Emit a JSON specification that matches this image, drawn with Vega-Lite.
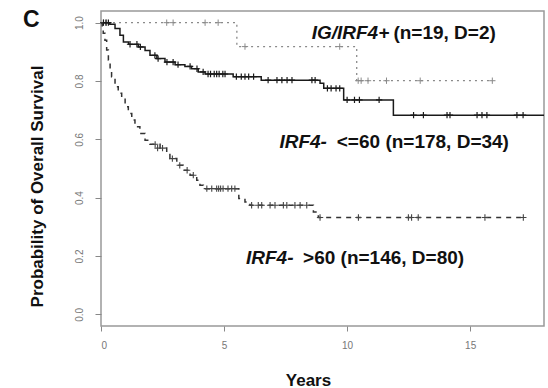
{
  "$schema": "https://vega.github.io/schema/vega-lite/v6.json",
  "width": 443,
  "height": 315,
  "autosize": {"type": "none"},
  "padding": {"left": 101, "top": 11, "right": 4, "bottom": 62},
  "background": "white",
  "config": {
    "view": {"stroke": "#999999", "strokeWidth": 1.5},
    "font": "Liberation Sans",
    "axis": {"domain": false, "grid": false, "tickColor": "#888888", "labelColor": "#777777", "labelFont": "Liberation Sans", "labelFontSize": 10, "titleFont": "Liberation Sans", "titleFontWeight": "bold", "titleFontSize": 17, "titleColor": "#111111"}
  },
  "title": {"text": "C", "anchor": "start", "frame": "group", "orient": "top", "dx": -78, "dy": 21, "offset": 0, "fontSize": 23, "fontWeight": "bold", "color": "#111111", "font": "Liberation Sans", "baseline": "top"},
  "datasets": {
    "curves": [
      {"group": "ig", "t": 0, "s": 1}, {"group": "ig", "t": 5.52, "s": 0.918}, {"group": "ig", "t": 10.39, "s": 0.801}, {"group": "ig", "t": 15.9, "s": 0.801},
      {"group": "le60", "t": 0, "s": 1}, {"group": "le60", "t": 0.36, "s": 0.995}, {"group": "le60", "t": 0.57, "s": 0.98}, {"group": "le60", "t": 0.77, "s": 0.957}, {"group": "le60", "t": 0.91, "s": 0.934}, {"group": "le60", "t": 1.12, "s": 0.926}, {"group": "le60", "t": 1.52, "s": 0.917}, {"group": "le60", "t": 1.79, "s": 0.905}, {"group": "le60", "t": 1.99, "s": 0.888}, {"group": "le60", "t": 2.27, "s": 0.877}, {"group": "le60", "t": 2.6, "s": 0.865}, {"group": "le60", "t": 3.01, "s": 0.856}, {"group": "le60", "t": 3.41, "s": 0.85}, {"group": "le60", "t": 3.68, "s": 0.842}, {"group": "le60", "t": 3.95, "s": 0.831}, {"group": "le60", "t": 4.23, "s": 0.824}, {"group": "le60", "t": 5.37, "s": 0.815}, {"group": "le60", "t": 6.51, "s": 0.803}, {"group": "le60", "t": 8.9, "s": 0.792}, {"group": "le60", "t": 9.05, "s": 0.775}, {"group": "le60", "t": 9.86, "s": 0.735}, {"group": "le60", "t": 11.88, "s": 0.683}, {"group": "le60", "t": 18, "s": 0.683},
      {"group": "gt60", "t": 0, "s": 1}, {"group": "gt60", "t": 0.05, "s": 0.985}, {"group": "gt60", "t": 0.09, "s": 0.964}, {"group": "gt60", "t": 0.16, "s": 0.94}, {"group": "gt60", "t": 0.23, "s": 0.906}, {"group": "gt60", "t": 0.3, "s": 0.872}, {"group": "gt60", "t": 0.37, "s": 0.838}, {"group": "gt60", "t": 0.43, "s": 0.815}, {"group": "gt60", "t": 0.57, "s": 0.78}, {"group": "gt60", "t": 0.7, "s": 0.758}, {"group": "gt60", "t": 0.84, "s": 0.74}, {"group": "gt60", "t": 0.98, "s": 0.712}, {"group": "gt60", "t": 1.11, "s": 0.689}, {"group": "gt60", "t": 1.25, "s": 0.666}, {"group": "gt60", "t": 1.38, "s": 0.643}, {"group": "gt60", "t": 1.58, "s": 0.62}, {"group": "gt60", "t": 1.79, "s": 0.597}, {"group": "gt60", "t": 1.99, "s": 0.583}, {"group": "gt60", "t": 2.4, "s": 0.57}, {"group": "gt60", "t": 2.67, "s": 0.552}, {"group": "gt60", "t": 2.8, "s": 0.534}, {"group": "gt60", "t": 3.08, "s": 0.511}, {"group": "gt60", "t": 3.34, "s": 0.494}, {"group": "gt60", "t": 3.62, "s": 0.477}, {"group": "gt60", "t": 3.89, "s": 0.46}, {"group": "gt60", "t": 4.02, "s": 0.443}, {"group": "gt60", "t": 4.16, "s": 0.431}, {"group": "gt60", "t": 5.6, "s": 0.397}, {"group": "gt60", "t": 5.85, "s": 0.385}, {"group": "gt60", "t": 6.05, "s": 0.374}, {"group": "gt60", "t": 8.63, "s": 0.351}, {"group": "gt60", "t": 8.83, "s": 0.332}, {"group": "gt60", "t": 17.16, "s": 0.332}
    ],
    "censors": [
      {"group": "ig", "t": 0.1, "s": 1}, {"group": "ig", "t": 0.22, "s": 1}, {"group": "ig", "t": 2.67, "s": 1}, {"group": "ig", "t": 2.93, "s": 1}, {"group": "ig", "t": 4.23, "s": 1}, {"group": "ig", "t": 4.76, "s": 1}, {"group": "ig", "t": 5.85, "s": 0.918}, {"group": "ig", "t": 9.7, "s": 0.918}, {"group": "ig", "t": 10.45, "s": 0.801}, {"group": "ig", "t": 10.57, "s": 0.801}, {"group": "ig", "t": 10.85, "s": 0.801}, {"group": "ig", "t": 11.6, "s": 0.801}, {"group": "ig", "t": 12.97, "s": 0.801}, {"group": "ig", "t": 15.9, "s": 0.801},
      {"group": "le60", "t": 0.1, "s": 1}, {"group": "le60", "t": 0.2, "s": 1}, {"group": "le60", "t": 0.3, "s": 1}, {"group": "le60", "t": 1.18, "s": 0.926}, {"group": "le60", "t": 1.46, "s": 0.926}, {"group": "le60", "t": 1.6, "s": 0.917}, {"group": "le60", "t": 2.19, "s": 0.888}, {"group": "le60", "t": 2.32, "s": 0.877}, {"group": "le60", "t": 2.68, "s": 0.865}, {"group": "le60", "t": 2.93, "s": 0.865}, {"group": "le60", "t": 3.13, "s": 0.856}, {"group": "le60", "t": 3.62, "s": 0.85}, {"group": "le60", "t": 3.9, "s": 0.842}, {"group": "le60", "t": 4.15, "s": 0.831}, {"group": "le60", "t": 4.35, "s": 0.824}, {"group": "le60", "t": 4.45, "s": 0.824}, {"group": "le60", "t": 4.6, "s": 0.824}, {"group": "le60", "t": 4.7, "s": 0.824}, {"group": "le60", "t": 4.8, "s": 0.824}, {"group": "le60", "t": 4.95, "s": 0.824}, {"group": "le60", "t": 5.04, "s": 0.824}, {"group": "le60", "t": 5.5, "s": 0.815}, {"group": "le60", "t": 5.7, "s": 0.815}, {"group": "le60", "t": 5.85, "s": 0.815}, {"group": "le60", "t": 6.0, "s": 0.815}, {"group": "le60", "t": 6.2, "s": 0.815}, {"group": "le60", "t": 6.79, "s": 0.803}, {"group": "le60", "t": 7.15, "s": 0.803}, {"group": "le60", "t": 7.35, "s": 0.803}, {"group": "le60", "t": 7.56, "s": 0.803}, {"group": "le60", "t": 7.76, "s": 0.803}, {"group": "le60", "t": 8.57, "s": 0.803}, {"group": "le60", "t": 8.7, "s": 0.803}, {"group": "le60", "t": 9.2, "s": 0.775}, {"group": "le60", "t": 9.35, "s": 0.775}, {"group": "le60", "t": 9.55, "s": 0.775}, {"group": "le60", "t": 9.7, "s": 0.775}, {"group": "le60", "t": 10.0, "s": 0.735}, {"group": "le60", "t": 10.3, "s": 0.735}, {"group": "le60", "t": 10.5, "s": 0.735}, {"group": "le60", "t": 11.3, "s": 0.735}, {"group": "le60", "t": 12.7, "s": 0.683}, {"group": "le60", "t": 13.1, "s": 0.683}, {"group": "le60", "t": 14.06, "s": 0.683}, {"group": "le60", "t": 14.18, "s": 0.683}, {"group": "le60", "t": 15.28, "s": 0.683}, {"group": "le60", "t": 15.48, "s": 0.683}, {"group": "le60", "t": 15.68, "s": 0.683}, {"group": "le60", "t": 16.9, "s": 0.683}, {"group": "le60", "t": 17.15, "s": 0.683},
      {"group": "gt60", "t": 2.2, "s": 0.583}, {"group": "gt60", "t": 2.3, "s": 0.57}, {"group": "gt60", "t": 2.5, "s": 0.57}, {"group": "gt60", "t": 2.9, "s": 0.534}, {"group": "gt60", "t": 3.2, "s": 0.511}, {"group": "gt60", "t": 3.5, "s": 0.494}, {"group": "gt60", "t": 3.75, "s": 0.477}, {"group": "gt60", "t": 4.3, "s": 0.431}, {"group": "gt60", "t": 4.5, "s": 0.431}, {"group": "gt60", "t": 4.7, "s": 0.431}, {"group": "gt60", "t": 4.78, "s": 0.431}, {"group": "gt60", "t": 4.86, "s": 0.431}, {"group": "gt60", "t": 4.96, "s": 0.431}, {"group": "gt60", "t": 5.16, "s": 0.431}, {"group": "gt60", "t": 5.31, "s": 0.431}, {"group": "gt60", "t": 5.44, "s": 0.431}, {"group": "gt60", "t": 6.12, "s": 0.374}, {"group": "gt60", "t": 6.39, "s": 0.374}, {"group": "gt60", "t": 6.53, "s": 0.374}, {"group": "gt60", "t": 6.87, "s": 0.374}, {"group": "gt60", "t": 7.07, "s": 0.374}, {"group": "gt60", "t": 7.41, "s": 0.374}, {"group": "gt60", "t": 7.55, "s": 0.374}, {"group": "gt60", "t": 7.88, "s": 0.374}, {"group": "gt60", "t": 8.09, "s": 0.374}, {"group": "gt60", "t": 8.36, "s": 0.374}, {"group": "gt60", "t": 8.9, "s": 0.332}, {"group": "gt60", "t": 10.46, "s": 0.332}, {"group": "gt60", "t": 12.49, "s": 0.332}, {"group": "gt60", "t": 12.62, "s": 0.332}, {"group": "gt60", "t": 12.89, "s": 0.332}, {"group": "gt60", "t": 15.6, "s": 0.332}, {"group": "gt60", "t": 17.16, "s": 0.332}
    ]
  },
  "layer": [
    {"data": {"name": "curves"}, "transform": [{"filter": "datum.group === 'ig'"}],
      "mark": {"type": "line", "interpolate": "step-after", "color": "#8a8a8a", "strokeWidth": 1.3, "strokeDash": [2, 4], "clip": true},
      "encoding": {
        "x": {"field": "t", "type": "quantitative", "scale": {"domain": [0, 18], "nice": false, "zero": false},
          "axis": {"values": [0, 5, 10, 15], "tickSize": 5, "labelPadding": 9, "title": "Years", "titleX": 207, "titleY": 54, "titleBaseline": "middle"}},
        "y": {"field": "s", "type": "quantitative", "scale": {"domain": [-0.04, 1.04], "nice": false, "zero": false},
          "axis": {"values": [0, 0.2, 0.4, 0.6, 0.8, 1.0], "format": ".1f", "tickSize": 6, "labelAngle": -90, "labelAlign": "center", "labelBaseline": "bottom", "labelPadding": 11, "title": "Probability of Overall Survival", "titleX": -64, "titleY": 175, "titleAngle": -90, "titleAlign": "center", "titleBaseline": "middle"}}
      }},
    {"data": {"name": "censors"}, "transform": [{"filter": "datum.group === 'ig'"}],
      "mark": {"type": "point", "shape": "M-1,0L1,0M0,-1L0,1", "filled": false, "size": 40, "strokeWidth": 1, "color": "#8a8a8a", "opacity": 1},
      "encoding": {"x": {"field": "t", "type": "quantitative"}, "y": {"field": "s", "type": "quantitative"}}},
    {"data": {"name": "curves"}, "transform": [{"filter": "datum.group === 'le60'"}],
      "mark": {"type": "line", "interpolate": "step-after", "color": "#1a1a1a", "strokeWidth": 1.5, "clip": true},
      "encoding": {"x": {"field": "t", "type": "quantitative"}, "y": {"field": "s", "type": "quantitative"}}},
    {"data": {"name": "censors"}, "transform": [{"filter": "datum.group === 'le60'"}],
      "mark": {"type": "point", "shape": "M-1,0L1,0M0,-1L0,1", "filled": false, "size": 40, "strokeWidth": 1.2, "color": "#1a1a1a", "opacity": 1},
      "encoding": {"x": {"field": "t", "type": "quantitative"}, "y": {"field": "s", "type": "quantitative"}}},
    {"data": {"name": "curves"}, "transform": [{"filter": "datum.group === 'gt60'"}],
      "mark": {"type": "line", "interpolate": "step-after", "color": "#333333", "strokeWidth": 1.5, "strokeDash": [5, 5], "clip": true},
      "encoding": {"x": {"field": "t", "type": "quantitative"}, "y": {"field": "s", "type": "quantitative"}}},
    {"data": {"name": "censors"}, "transform": [{"filter": "datum.group === 'gt60'"}],
      "mark": {"type": "point", "shape": "M-1,0L1,0M0,-1L0,1", "filled": false, "size": 40, "strokeWidth": 1.1, "color": "#444444", "opacity": 1},
      "encoding": {"x": {"field": "t", "type": "quantitative"}, "y": {"field": "s", "type": "quantitative"}}},
    {"data": {"values": [{"note": "IG/IRF4+"}]}, "mark": {"type": "text", "fontStyle": "italic", "fontWeight": "bold", "fontSize": 19, "align": "left", "baseline": "alphabetic", "color": "#111111"},
      "encoding": {"text": {"field": "note"}, "x": {"datum": 8.56}, "y": {"datum": 0.944}}},
    {"data": {"values": [{"note": "(n=19, D=2)"}]}, "mark": {"type": "text", "fontWeight": "bold", "fontSize": 19, "align": "left", "baseline": "alphabetic", "color": "#111111"},
      "encoding": {"text": {"field": "note"}, "x": {"datum": 11.88}, "y": {"datum": 0.944}}},
    {"data": {"values": [{"note": "IRF4-"}]}, "mark": {"type": "text", "fontStyle": "italic", "fontWeight": "bold", "fontSize": 19, "align": "left", "baseline": "alphabetic", "color": "#111111"},
      "encoding": {"text": {"field": "note"}, "x": {"datum": 7.25}, "y": {"datum": 0.572}}},
    {"data": {"values": [{"note": "<=60 (n=178, D=34)"}]}, "mark": {"type": "text", "fontWeight": "bold", "fontSize": 19, "align": "left", "baseline": "alphabetic", "color": "#111111"},
      "encoding": {"text": {"field": "note"}, "x": {"datum": 9.58}, "y": {"datum": 0.572}}},
    {"data": {"values": [{"note": "IRF4-"}]}, "mark": {"type": "text", "fontStyle": "italic", "fontWeight": "bold", "fontSize": 19, "align": "left", "baseline": "alphabetic", "color": "#111111"},
      "encoding": {"text": {"field": "note"}, "x": {"datum": 5.89}, "y": {"datum": 0.174}}},
    {"data": {"values": [{"note": ">60 (n=146, D=80)"}]}, "mark": {"type": "text", "fontWeight": "bold", "fontSize": 19, "align": "left", "baseline": "alphabetic", "color": "#111111"},
      "encoding": {"text": {"field": "note"}, "x": {"datum": 8.21}, "y": {"datum": 0.174}}}
  ]
}
